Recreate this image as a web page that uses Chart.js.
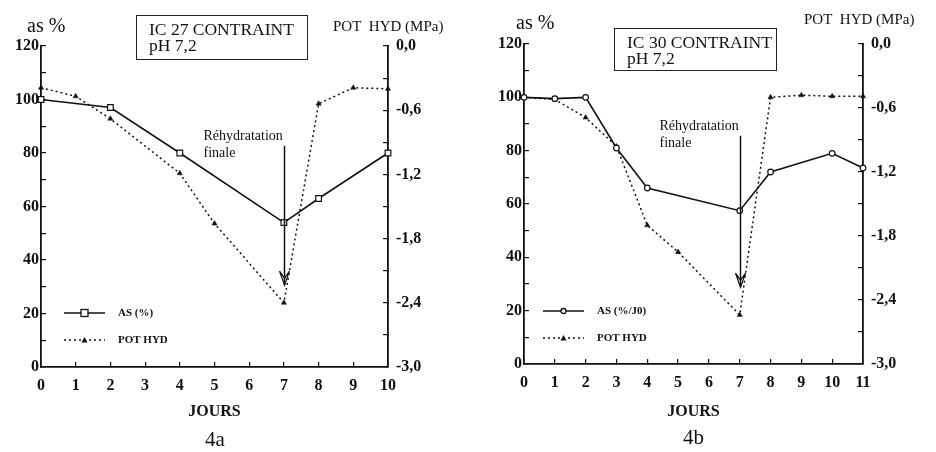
<!DOCTYPE html>
<html>
<head>
<meta charset="utf-8">
<script src="https://cdn.jsdelivr.net/npm/chart.js@4/dist/chart.umd.min.js"></script>
<style>
body { margin: 0; background: #fff; width: 936px; height: 452px; position: relative; overflow: hidden;
       font-family: "Liberation Serif", "DejaVu Serif", serif; color: #111; }
.pane { position: absolute; top: 0; width: 468px; height: 452px; }
.lbl { position: absolute; white-space: nowrap; line-height: 1; }
.box { position: absolute; border: 1.5px solid #222; font-size: 17.5px; line-height: 16px; padding: 5px 0 0 12px; box-sizing: border-box; }
</style>
</head>
<body>

<div class="pane" style="left:0">
  <canvas id="chart4a" width="468" height="452"></canvas>
</div>
<div class="pane" style="left:468px">
  <canvas id="chart4b" width="468" height="452"></canvas>
</div>

<div class="box" style="left:136px;top:15px;width:172px;height:45px">IC 27 CONTRAINT<br>pH 7,2</div>
<div class="box" style="left:614px;top:28px;width:163px;height:43px">IC 30 CONTRAINT<br>pH 7,2</div>

<div class="lbl" style="left:27px;top:15px;font-size:20px">as %</div>
<div class="lbl" style="left:333px;top:19px;font-size:15px">POT&nbsp; HYD (MPa)</div>
<div class="lbl" style="left:516px;top:12px;font-size:20px">as %</div>
<div class="lbl" style="left:804px;top:12px;font-size:15px">POT&nbsp; HYD (MPa)</div>

<div class="lbl" style="left:205px;top:429px;font-size:21px">4a</div>
<div class="lbl" style="left:683px;top:427px;font-size:21px">4b</div>

<script>
////////////////// DATA //////////////////

// figure 4a : IC 27
const days4a = [0, 2, 4, 7, 8, 10];
const as4a = [100, 97, 80, 54, 63, 80];
const potDays4a = [0, 1, 2, 4, 5, 7, 8, 9, 10];
const pot4a = [-0.39, -0.47, -0.68, -1.19, -1.66, -2.4, -0.54, -0.39, -0.4];

// figure 4b : IC 30
const days4b = [0, 1, 2, 3, 4, 7, 8, 10, 11];
const as4b = [100, 99.5, 100, 81, 66, 57.5, 72, 79, 73.5];
const potDays4b = [0, 1, 2, 3, 4, 5, 7, 8, 9, 10, 11];
const pot4b = [-0.5, -0.52, -0.69, -0.96, -1.7, -1.95, -2.54, -0.5, -0.48, -0.49, -0.49];

const rehydDay = 7;
const rehydText = ["Réhydratation", "finale"];

////////////////// HELPERS //////////////////

const SERIF = '"Liberation Serif", "DejaVu Serif", serif';
const INK = '#111';

function pairs(xs, ys) {
    return xs.map((x, i) => ({ x: x, y: ys[i] }));
}

// draws the "Rehydratation finale" arrow and the little legend inside the plot
const annotPlugin = {
    id: 'annot',
    afterDatasetsDraw(chart, args, o) {
        const ctx = chart.ctx;
        const xs = chart.scales.x, ys = chart.scales.y;
        const px = Math.round(xs.getPixelForValue(rehydDay)) + 0.5;
        const top = ys.getPixelForValue(o.arrowFrom);
        const tip = ys.getPixelForValue(o.arrowTo);

        ctx.save();
        ctx.strokeStyle = INK;
        ctx.fillStyle = INK;
        ctx.lineWidth = 1.5;
        ctx.beginPath();
        ctx.moveTo(px, top);
        ctx.lineTo(px, tip);
        ctx.stroke();
        ctx.lineWidth = 1.2;
        ctx.beginPath();
        ctx.moveTo(px - 5, tip - 14);
        ctx.lineTo(px, tip);
        ctx.lineTo(px + 5, tip - 14);
        ctx.moveTo(px - 5, tip - 14);
        ctx.lineTo(px, tip - 7);
        ctx.lineTo(px + 5, tip - 14);
        ctx.stroke();

        ctx.font = '14px ' + SERIF;
        ctx.textBaseline = 'middle';
        ctx.textAlign = 'left';
        ctx.fillText(rehydText[0], px - 81, top - 9);
        ctx.fillText(rehydText[1], px - 81, top + 8);

        // legend
        const lx = o.legX, lw = 41;
        ctx.lineWidth = 1.3;
        ctx.beginPath();
        ctx.moveTo(lx, o.legY1);
        ctx.lineTo(lx + lw, o.legY1);
        ctx.stroke();
        ctx.fillStyle = '#fff';
        if (o.marker === 'rect') {
            ctx.fillRect(lx + lw / 2 - 3.5, o.legY1 - 3.5, 7, 7);
            ctx.strokeRect(lx + lw / 2 - 3.5, o.legY1 - 3.5, 7, 7);
        } else {
            ctx.beginPath();
            ctx.arc(lx + lw / 2, o.legY1, 2.5, 0, Math.PI * 2);
            ctx.fill();
            ctx.stroke();
        }
        ctx.setLineDash([2, 3]);
        ctx.beginPath();
        ctx.moveTo(lx, o.legY2);
        ctx.lineTo(lx + lw, o.legY2);
        ctx.stroke();
        ctx.setLineDash([]);
        ctx.fillStyle = INK;
        ctx.beginPath();
        ctx.moveTo(lx + lw / 2 - 3, o.legY2 + 2.5);
        ctx.lineTo(lx + lw / 2 + 3, o.legY2 + 2.5);
        ctx.lineTo(lx + lw / 2, o.legY2 - 3);
        ctx.closePath();
        ctx.fill();

        ctx.font = 'bold 11px ' + SERIF;
        ctx.fillText(o.legText1, lx + lw + 13, o.legY1);
        ctx.fillText('POT HYD', lx + lw + 13, o.legY2);
        ctx.restore();
    }
};

function drawFigure(canvasId, asDays, asVals, potDays, potVals, xMax, box, annot) {
    const tickFont = { family: SERIF, size: 16, weight: 'bold' };
    return new Chart(document.getElementById(canvasId), {
        type: 'line',
        data: {
            datasets: [{
                data: pairs(asDays, asVals),
                yAxisID: 'y',
                borderColor: INK,
                borderWidth: 1.6,
                pointStyle: annot.marker,
                pointRadius: annot.marker === 'rect' ? 4 : 2.8,
                pointBackgroundColor: '#fff',
                pointBorderColor: INK,
                pointBorderWidth: 1.2,
                tension: 0,
                clip: false
            }, {
                data: pairs(potDays, potVals),
                yAxisID: 'y2',
                borderColor: INK,
                borderWidth: 1.5,
                borderDash: [2, 3],
                pointStyle: 'triangle',
                pointRadius: 3,
                pointBackgroundColor: INK,
                pointBorderColor: INK,
                pointBorderWidth: 0.5,
                tension: 0,
                clip: false
            }]
        },
        options: {
            responsive: false,
            animation: false,
            devicePixelRatio: 1,
            layout: { padding: { top: box.top, left: 0, right: 0, bottom: 0 } },
            plugins: { legend: { display: false }, tooltip: { enabled: false }, annot: annot },
            scales: {
                x: {
                    type: 'linear', min: 0, max: xMax,
                    afterFit: s => { s.height = 452 - box.bottom; },
                    border: { display: true, color: INK, width: 1.8 },
                    grid: { drawOnChartArea: false, tickLength: -5, color: INK, lineWidth: 1.2 },
                    ticks: { stepSize: 1, padding: 14, color: INK, font: tickFont, maxRotation: 0, autoSkip: false },
                    title: { display: true, text: 'JOURS', color: INK, font: { family: SERIF, size: 16, weight: 'bold' }, padding: { top: 0, bottom: 31 } }
                },
                y: {
                    position: 'left', min: 0, max: 120,
                    afterFit: s => { s.width = box.left; },
                    border: { display: true, color: INK, width: 1.8 },
                    grid: { drawOnChartArea: false, tickLength: -5, color: INK, lineWidth: 1.2 },
                    ticks: { stepSize: 10, padding: 7, color: INK, font: tickFont,
                        callback: v => (v % 20 === 0 ? v : '') }
                },
                y2: {
                    position: 'right', min: -3, max: 0,
                    afterFit: s => { s.width = 468 - box.right; },
                    border: { display: true, color: INK, width: 1.8 },
                    grid: { drawOnChartArea: false, tickLength: -5, color: INK, lineWidth: 1.2 },
                    ticks: { stepSize: 0.3, padding: 13, color: INK, font: tickFont,
                        callback: v => {
                            const k = Math.round(v * 10);
                            return k % 6 === 0 ? (k / 10).toFixed(1).replace('.', ',') : '';
                        } }
                }
            }
        },
        plugins: [annotPlugin]
    });
}

drawFigure('chart4a', days4a, as4a, potDays4a, pot4a, 10,
    { left: 41, right: 388, top: 46, bottom: 367 },
    { marker: 'rect', arrowFrom: 82.7, arrowTo: 30.6, legX: 64, legY1: 313, legY2: 340, legText1: 'AS (%)' });

drawFigure('chart4b', days4b, as4b, potDays4b, pot4b, 11,
    { left: 56, right: 395, top: 44, bottom: 364 },
    { marker: 'circle', arrowFrom: 85.6, arrowTo: 28.8, legX: 75, legY1: 311, legY2: 338, legText1: 'AS (%/J0)' });
</script>
</body>
</html>
